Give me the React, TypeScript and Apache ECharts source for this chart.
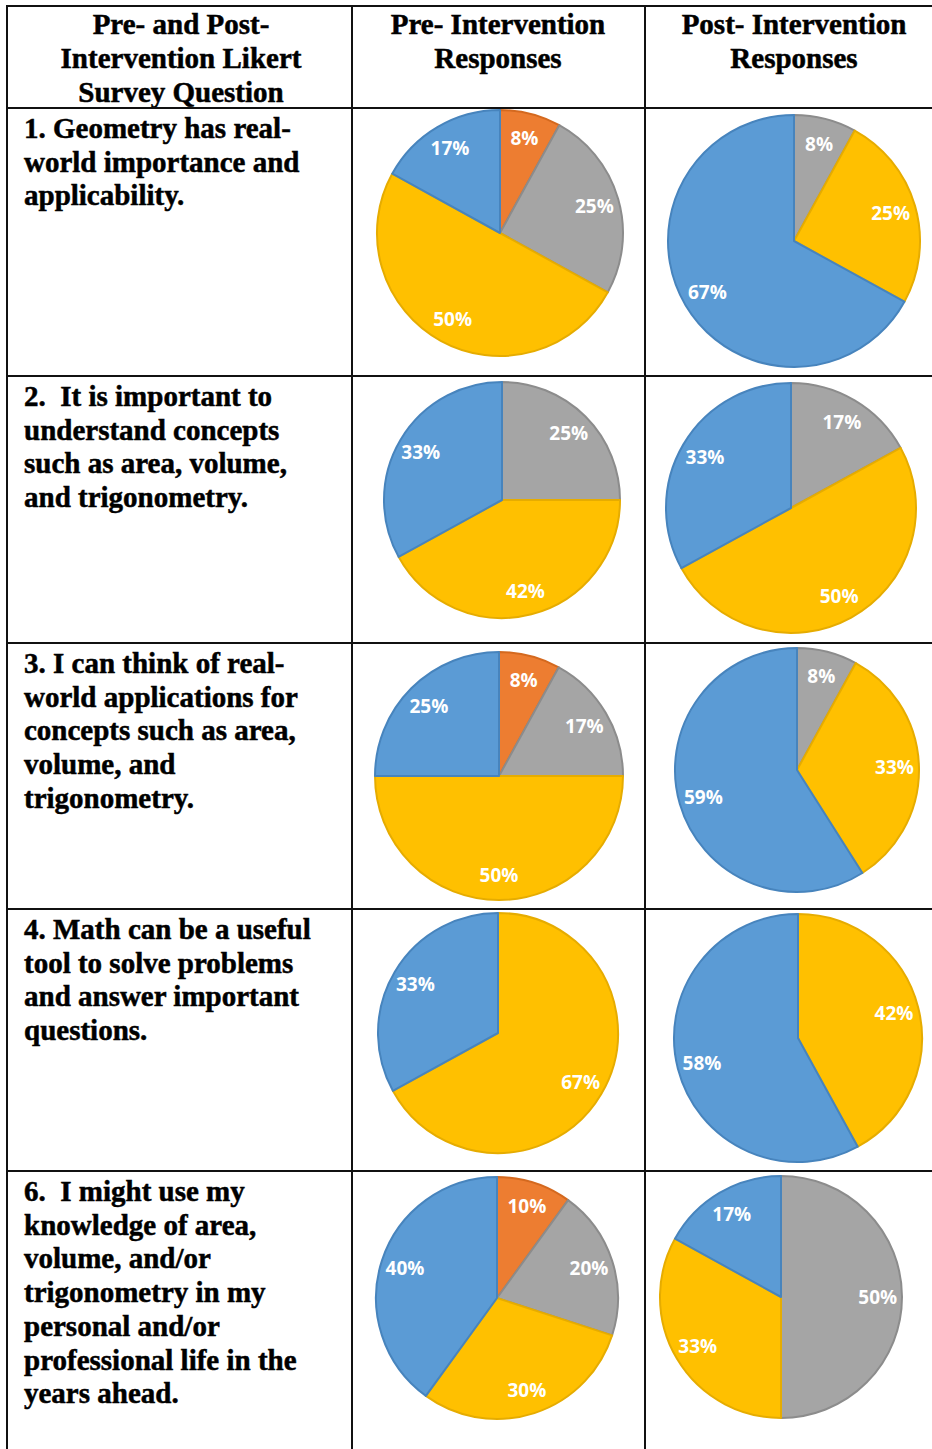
import React, { useEffect, useRef } from "react";
import * as echarts from "echarts";

// Likert categories in clockwise order from 12 o'clock
const categories = ["Disagree", "Neutral", "Agree", "Strongly Agree"];

const headerCol1 = ["Pre- and Post-", "Intervention Likert", "Survey Question"];
const headerCol2 = ["Pre- Intervention", "Responses"];
const headerCol3 = ["Post- Intervention", "Responses"];

const questionLines = [
  ["1. Geometry has real-", "world importance and", "applicability."],
  ["2.  It is important to", "understand concepts", "such as area, volume,", "and trigonometry."],
  ["3. I can think of real-", "world applications for", "concepts such as area,", "volume, and", "trigonometry."],
  ["4. Math can be a useful", "tool to solve problems", "and answer important", "questions."],
  ["6.  I might use my", "knowledge of area,", "volume, and/or", "trigonometry in my", "personal and/or", "professional life in the", "years ahead."],
];

// Percent of responses per question (rows), by category
const preDisagree = [8, 0, 8, 0, 10];
const preNeutral = [25, 25, 17, 0, 20];
const preAgree = [50, 42, 50, 67, 30];
const preStronglyAgree = [17, 33, 25, 33, 40];

const postDisagree = [0, 0, 0, 0, 0];
const postNeutral = [8, 17, 8, 0, 50];
const postAgree = [25, 50, 33, 42, 33];
const postStronglyAgree = [67, 33, 59, 58, 17];

// layout (not data)
const hLines = [6, 108, 376, 643, 909, 1171];
const vLines = [7, 352, 645];
const preLayout = [
  [500, 233, 123],
  [502, 500, 118],
  [499, 776, 124],
  [498, 1033, 120],
  [497, 1298, 121],
];
const postLayout = [
  [794, 241, 126],
  [791, 508, 125],
  [797, 770, 122],
  [798, 1038, 124],
  [781, 1297, 121],
];
const fills = ["#ED7D31", "#A5A5A5", "#FFC000", "#5B9BD5"];
const strokes = ["#D4691F", "#8C8C8C", "#E6AC00", "#4784BD"];

function buildData(vals: number[]) {
  return vals
    .map((v, i) => ({ name: categories[i], value: v, idx: i }))
    .filter((d) => d.value > 0);
}

export default function App() {
  const ref = useRef<HTMLDivElement>(null);
  useEffect(() => {
    if (!ref.current) return;
    const chart = echarts.init(ref.current, undefined, { renderer: "svg" });
    const series: any[] = [];
    const pre = [preDisagree, preNeutral, preAgree, preStronglyAgree];
    const post = [postDisagree, postNeutral, postAgree, postStronglyAgree];
    const addPie = (vals: number[], lay: number[]) => {
      const d = buildData(vals);
      const [cx, cy, r] = lay;
      series.push({
        type: "pie",
        silent: true,
        center: [cx, cy],
        radius: [0, r],
        startAngle: 90,
        clockwise: true,
        label: { show: false },
        labelLine: { show: false },
        data: d.map((x) => ({
          name: x.name,
          value: x.value,
          itemStyle: { color: fills[x.idx], borderColor: strokes[x.idx], borderWidth: 2 },
        })),
      });
      series.push({
        type: "pie",
        silent: true,
        center: [cx, cy],
        radius: [r * 0.55, r],
        startAngle: 90,
        clockwise: true,
        avoidLabelOverlap: false,
        label: {
          show: true,
          position: "inside",
          formatter: (p: any) => p.value + "%",
          color: "#ffffff",
          fontFamily: "Open Sans",
          fontWeight: "bold",
          fontSize: 19,
        },
        labelLine: { show: false },
        itemStyle: { color: "rgba(0,0,0,0)", borderWidth: 0 },
        data: d.map((x) => ({ name: x.name, value: x.value })),
      });
    };
    for (let q = 0; q < 5; q++) {
      addPie(pre.map((a) => a[q]), preLayout[q]);
      addPie(post.map((a) => a[q]), postLayout[q]);
    }

    const graphics: any[] = [];
    const font = "bold 29px 'Liberation Serif', 'Times New Roman', serif";
    const txt = (text: string, x: number, y: number, align: string) => ({
      type: "text",
      silent: true,
      style: {
        text,
        x,
        y,
        font,
        fill: "#000000",
        stroke: "#000000",
        lineWidth: 0.5,
        align,
        textAlign: align,
        verticalAlign: "middle",
        textVerticalAlign: "middle",
      },
    });
    headerCol1.forEach((t, i) => graphics.push(txt(t, 181, 24 + i * 34, "center")));
    headerCol2.forEach((t, i) => graphics.push(txt(t, 498, 24 + i * 34, "center")));
    headerCol3.forEach((t, i) => graphics.push(txt(t, 794, 24 + i * 34, "center")));
    questionLines.forEach((lines, q) => {
      lines.forEach((t, i) => graphics.push(txt(t, 24, hLines[q + 1] + 20 + i * 33.7, "left")));
    });
    hLines.forEach((y) =>
      graphics.push({
        type: "line",
        silent: true,
        shape: { x1: 6, y1: y, x2: 940, y2: y },
        style: { stroke: "#111111", lineWidth: 2 },
      })
    );
    vLines.forEach((x) =>
      graphics.push({
        type: "line",
        silent: true,
        shape: { x1: x, y1: 5, x2: x, y2: 1460 },
        style: { stroke: "#111111", lineWidth: 2 },
      })
    );

    chart.setOption({
      animation: false,
      backgroundColor: "#ffffff",
      series,
      graphic: { elements: graphics },
    });
    return () => chart.dispose();
  }, []);
  return (
    <div
      ref={ref}
      style={{ position: "fixed", left: 0, top: 0, width: 932, height: 1449 }}
    />
  );
}
